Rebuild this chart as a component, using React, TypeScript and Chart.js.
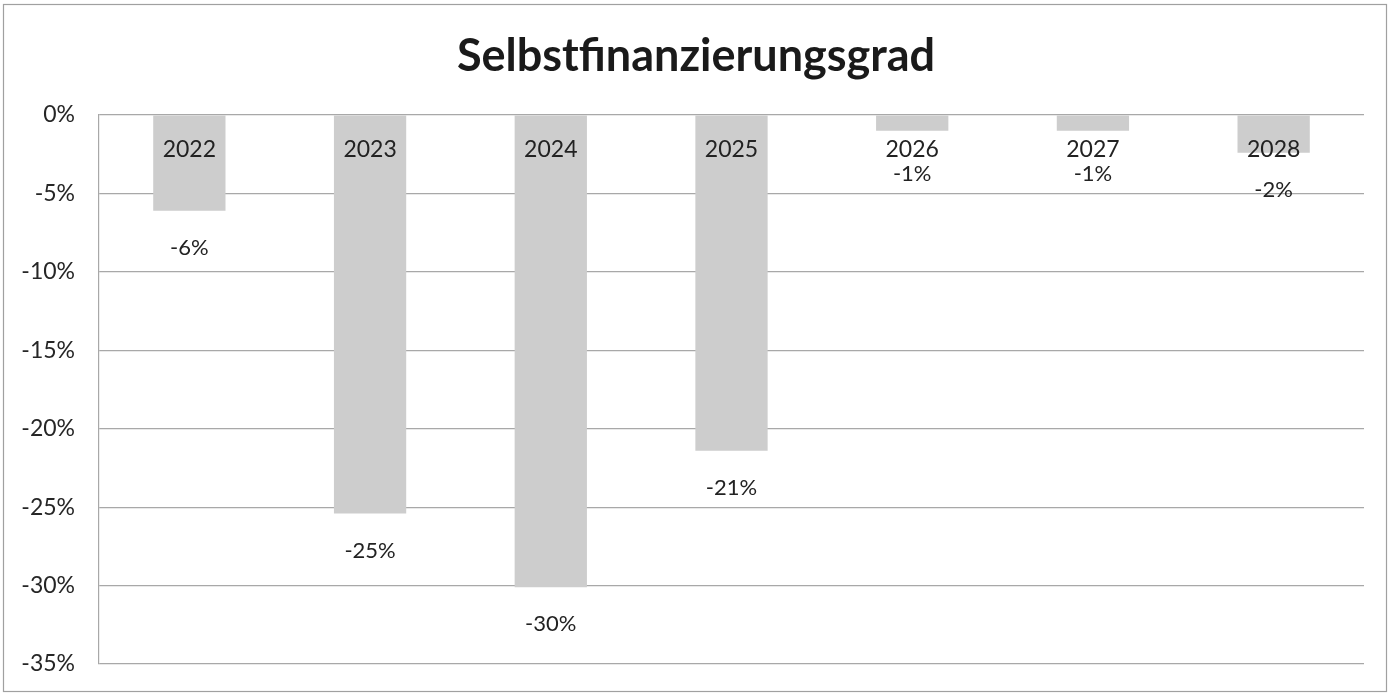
import React, { useEffect, useRef } from "react";
import { Chart, registerables } from "chart.js";

Chart.register(...registerables);

const TITLE = "Selbstfinanzierungsgrad";
const YEARS = ["2022", "2023", "2024", "2025", "2026", "2027", "2028"];
const VALUES = [-6.1, -25.4, -30.1, -21.4, -1.0, -1.0, -2.4];
const Y_MIN = -35;
const Y_MAX = 0;
const Y_STEP = 5;

const FONT = "Lato, 'Noto Sans', sans-serif";

const overlayPlugin = {
  id: "overlay",
  beforeDraw(chart: any) {
    const ctx = chart.ctx;
    ctx.save();
    ctx.fillStyle = "#ffffff";
    ctx.fillRect(0, 0, chart.width, chart.height);
    ctx.strokeStyle = "#a0a0a0";
    ctx.lineWidth = 1.2;
    ctx.strokeRect(3.5, 4.5, chart.width - 7, chart.height - 9);
    ctx.restore();
  },
  afterDraw(chart: any) {
    const ctx = chart.ctx;
    const y = chart.scales.y;
    const meta = chart.getDatasetMeta(0);
    ctx.save();
    // title
    ctx.fillStyle = "#1a1a1a";
    ctx.font = `bold 45px ${FONT}`;
    ctx.textAlign = "center";
    ctx.textBaseline = "middle";
    ctx.fillText(TITLE, 696, 56);
    // labels
    const zero = y.getPixelForValue(0);
    const yearY = zero + 35;
    meta.data.forEach((bar: any, i: number) => {
      ctx.fillStyle = "#222222";
      ctx.font = `23px ${FONT}`;
      ctx.fillText(YEARS[i], bar.x, yearY);
      const bottom = y.getPixelForValue(VALUES[i]);
      const vy = Math.max(bottom + 37, yearY + 24);
      ctx.font = `22px ${FONT}`;
      ctx.fillText(`${Math.round(VALUES[i])}%`, bar.x, vy);
    });
    ctx.restore();
  },
};

export default function App() {
  const ref = useRef<HTMLCanvasElement | null>(null);
  useEffect(() => {
    document.body.style.margin = "0";
    const canvas = ref.current!;
    const chart = new Chart(canvas, {
      type: "bar",
      data: {
        labels: YEARS,
        datasets: [
          {
            data: VALUES,
            backgroundColor: "#cdcdcd",
            borderWidth: 0,
            barPercentage: 1,
            categoryPercentage: 0.4,
          },
        ],
      },
      plugins: [overlayPlugin],
      options: {
        animation: false,
        responsive: false,
        maintainAspectRatio: false,
        layout: { padding: { top: 115, left: 0, right: 26, bottom: 32 } },
        plugins: {
          legend: { display: false },
          title: { display: false },
          tooltip: { enabled: false },
        },
        scales: {
          x: {
            display: false,
            grid: { display: false },
          },
          y: {
            min: Y_MIN,
            max: Y_MAX,
            afterFit: (s: any) => {
              s.width = 99;
              s.paddingTop = 0;
              s.paddingBottom = 0;
            },
            ticks: {
              stepSize: Y_STEP,
              padding: 24,
              color: "#262626",
              font: { family: FONT, size: 23 },
              callback: (v: any) => `${v}%`,
            },
            grid: {
              color: "#a8a8a8",
              lineWidth: 1.2,
              drawTicks: false,
            },
            border: { display: true, color: "#a8a8a8", width: 1.2 },
          },
        },
      },
    });
    return () => chart.destroy();
  }, []);
  return (
    <div style={{ width: 1390, height: 696 }}>
      <canvas ref={ref} width={1390} height={696} style={{ display: "block" }} />
    </div>
  );
}
